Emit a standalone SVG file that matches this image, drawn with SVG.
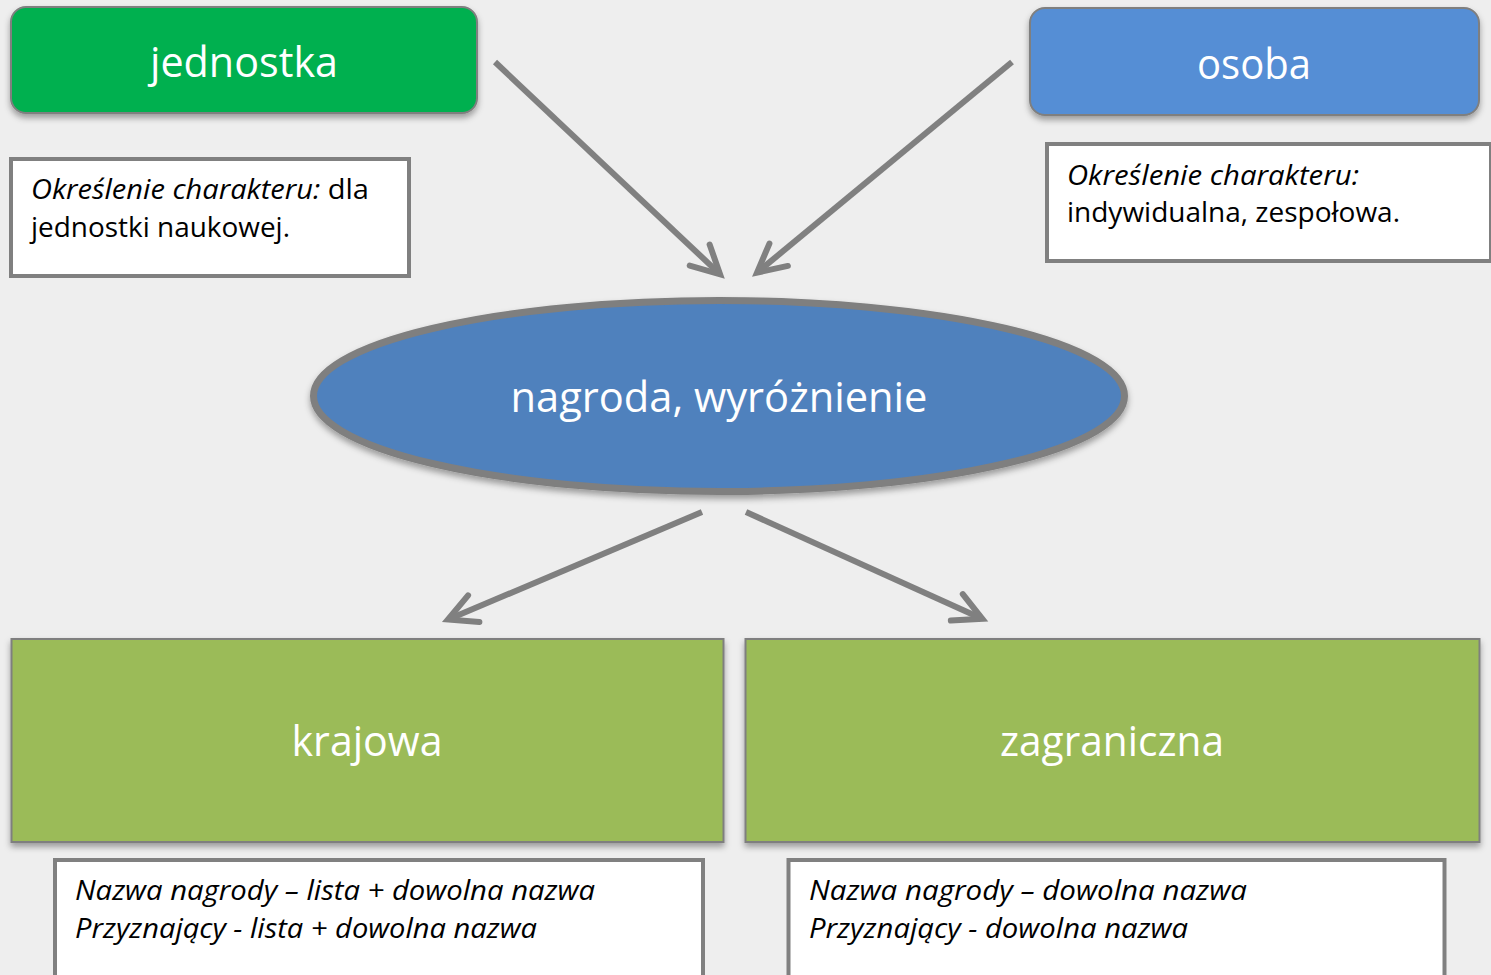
<svg xmlns="http://www.w3.org/2000/svg" width="1491" height="975" viewBox="0 0 1491 975">
<style>
.title{font-family:"Open Sans","Noto Sans","Liberation Sans",sans-serif;font-size:42px;fill:#ffffff;text-anchor:middle}
.note{font-family:"Open Sans","Noto Sans","Liberation Sans",sans-serif;font-size:26.5px;fill:#000000}
.it{font-style:italic}
.notebox{fill:#ffffff;stroke:#808080;stroke-width:4}
.shape{stroke:#7f7f7f;stroke-width:2}
.conn{stroke:#808080;stroke-width:6;fill:none;marker-end:url(#arrow)}
</style>
<defs>
<filter id="sh" x="-10%" y="-20%" width="120%" height="150%">
<feDropShadow dx="0" dy="4" stdDeviation="3" flood-color="#000000" flood-opacity="0.35"/>
</filter>
<marker id="arrow" markerUnits="userSpaceOnUse" orient="auto" refX="-2" refY="0" markerWidth="40" markerHeight="40" overflow="visible">
<path d="M -28 -14.5 L 0 0 L -28 14.5" fill="none" stroke="#808080" stroke-width="6" stroke-linecap="round" stroke-linejoin="miter"/>
</marker>
</defs>
<rect x="0" y="0" width="1491" height="975" fill="#eeeeee"/>

<g id="connectors">
<path class="conn" d="M 495 62 L 718.6 272.9"/>
<path class="conn" d="M 1012 62 L 758.6 271.3"/>
<path class="conn" d="M 702 512 L 449.8 618.8"/>
<path class="conn" d="M 746 512 L 980.5 618"/>
</g>

<g id="jednostka">
<rect class="shape" x="11" y="7" width="466" height="106" rx="15" fill="#00b050" filter="url(#sh)"/>
<text class="title" x="244" y="77" textLength="188" lengthAdjust="spacingAndGlyphs">jednostka</text>
</g>

<g id="osoba">
<rect class="shape" x="1030" y="8" width="449" height="107" rx="15" fill="#558ed5" filter="url(#sh)"/>
<text class="title" x="1254" y="79" textLength="114" lengthAdjust="spacingAndGlyphs">osoba</text>
</g>

<g id="note-jednostka">
<rect class="notebox" x="11" y="159" width="398" height="117"/>
<text class="note" x="31" y="199" textLength="338" lengthAdjust="spacingAndGlyphs"><tspan class="it">Określenie charakteru:</tspan> dla</text>
<text class="note" x="31" y="237" textLength="259" lengthAdjust="spacingAndGlyphs">jednostki naukowej.</text>
</g>

<g id="note-osoba">
<rect class="notebox" x="1047" y="144" width="444" height="117"/>
<text class="note it" x="1067" y="185" textLength="292" lengthAdjust="spacingAndGlyphs">Określenie charakteru:</text>
<text class="note" x="1067" y="222" textLength="333" lengthAdjust="spacingAndGlyphs">indywidualna, zespołowa.</text>
</g>

<g id="nagroda">
<ellipse cx="719" cy="396" rx="405.5" ry="95.5" fill="#4f81bd" stroke="#7f7f7f" stroke-width="7" filter="url(#sh)"/>
<text class="title" x="719" y="412" textLength="417" lengthAdjust="spacingAndGlyphs">nagroda, wyróżnienie</text>
</g>

<g id="krajowa">
<rect class="shape" x="11.5" y="639" width="712" height="203" fill="#9bbb59" filter="url(#sh)"/>
<text class="title" x="367" y="756" textLength="151" lengthAdjust="spacingAndGlyphs">krajowa</text>
</g>

<g id="zagraniczna">
<rect class="shape" x="745.5" y="639" width="734" height="203" fill="#9bbb59" filter="url(#sh)"/>
<text class="title" x="1112" y="756" textLength="224" lengthAdjust="spacingAndGlyphs">zagraniczna</text>
</g>

<g id="note-krajowa">
<rect class="notebox" x="55" y="860" width="648" height="140"/>
<text class="note it" x="75" y="900" textLength="520" lengthAdjust="spacingAndGlyphs">Nazwa nagrody – lista + dowolna nazwa</text>
<text class="note it" x="75" y="938" textLength="462" lengthAdjust="spacingAndGlyphs">Przyznający - lista + dowolna nazwa</text>
</g>

<g id="note-zagraniczna">
<rect class="notebox" x="788.5" y="860" width="656" height="140"/>
<text class="note it" x="809" y="900" textLength="438" lengthAdjust="spacingAndGlyphs">Nazwa nagrody – dowolna nazwa</text>
<text class="note it" x="809" y="938" textLength="379" lengthAdjust="spacingAndGlyphs">Przyznający - dowolna nazwa</text>
</g>
</svg>
